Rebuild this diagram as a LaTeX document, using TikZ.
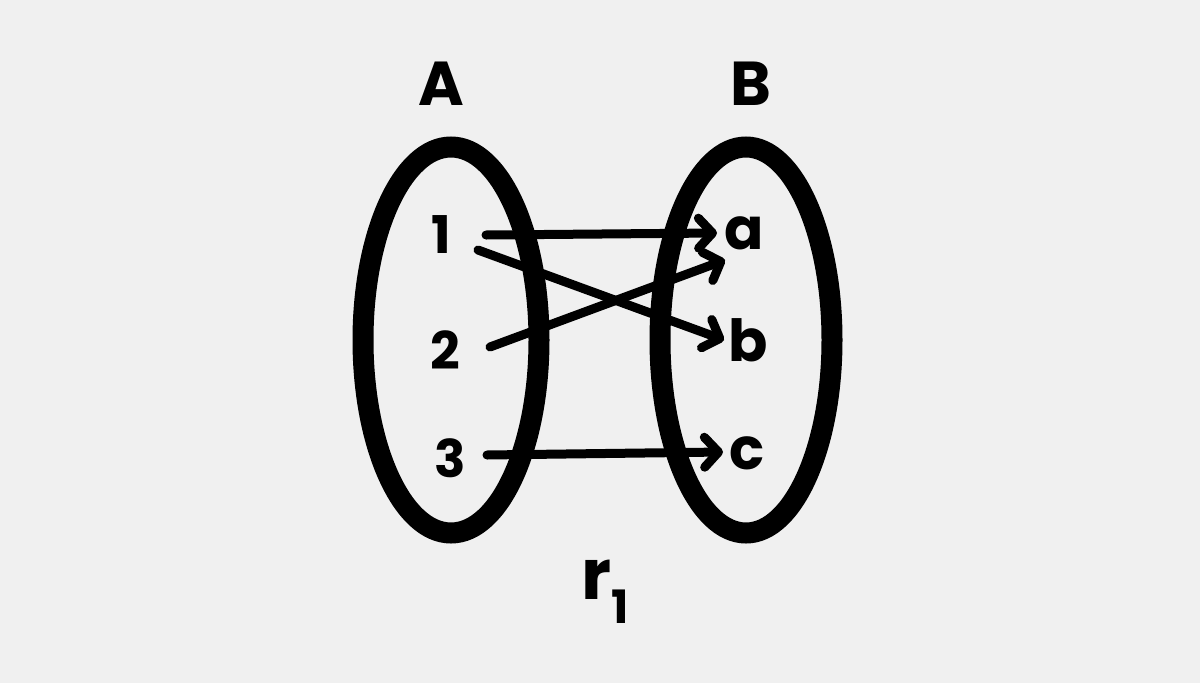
\documentclass[tikz,border=0pt]{standalone}
\usepackage{fontspec}
\setmainfont{Poppins}
\usetikzlibrary{arrows.meta,shapes.geometric,calc}
\definecolor{bg}{HTML}{F0F0F0}
\begin{document}
\begin{tikzpicture}[x=1pt,y=-1pt,
  setbox/.style={ellipse,draw,line width=21pt,inner sep=0pt},
  lbl/.style={inner sep=0pt,font=\bfseries\fontsize{62}{62}\selectfont},
  elem/.style={inner sep=0pt,font=\bfseries\fontsize{52}{52}\selectfont},
  letr/.style={inner sep=0pt,font=\bfseries\fontsize{58}{58}\selectfont},
  arr/.style={line width=9pt,line cap=round,-{Straight Barb[round,length=14pt 0,width=30pt 0]}}]
\fill[bg] (0,0) rectangle (1200,683);
\useasboundingbox (0,0) rectangle (1200,683);
\node[setbox,minimum width=176pt,minimum height=386pt] (SA) at (451,340) {};
\node[setbox,minimum width=172pt,minimum height=386pt] (SB) at (746,340) {};
\node[lbl] (A) at (441,84) {A};
\node[lbl] (B) at (751,84) {B};
\node[elem] (n1) at (441,235) {1};
\node[elem] (n2) at (445,350) {2};
\node[elem] (n3) at (450,458) {3};
\node[letr] (na) at (744,233) {a};
\node[letr] (nb) at (748,340) {b};
\node[letr] (nc) at (747,453) {c};
\node[inner sep=0pt] (r1) at (605,592) {\bfseries\fontsize{70}{70}\selectfont r\raisebox{-0.35em}{\fontsize{46}{46}\selectfont 1}};
\draw[arr] ($(n1)+(45,0)$) -- ($(na)+(-27,0)$);
\draw[arr] ($(n1)+(37,15)$) -- ($(nb)+(-24,0)$);
\draw[arr] ($(n2)+(45,-3)$) -- ($(na)+(-19,27)$);
\draw[arr] ($(n3)+(37,-3)$) -- ($(nc)+(-24,-1)$);
\end{tikzpicture}
\end{document}
